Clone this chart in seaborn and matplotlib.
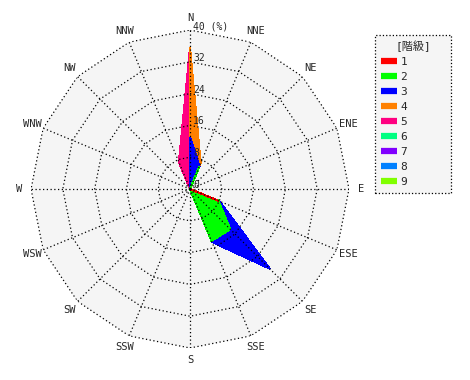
import numpy as np
import matplotlib
matplotlib.use("Agg")
import matplotlib.pyplot as plt
import matplotlib.transforms as mtransforms
from matplotlib.lines import Line2D
import seaborn as sns

# 16 directions, clockwise from north
directions = ["N", "NNE", "NE", "ENE", "E", "ESE", "SE", "SSE",
              "S", "SSW", "SW", "WSW", "W", "WNW", "NW", "NNW"]

# frequency (%) per class, in the order of directions
class1 = [0, 0, 0, 0, 0, 7.7, 0, 0, 0, 0, 0, 0, 0, 0, 0, 0]
class2 = [0, 6.0, 0, 0, 0, 0, 14.3, 14.1, 0, 0, 0, 0, 0, 0, 0, 0]
class3 = [13.0, 0.2, 0, 0, 0, 0.3, 14.0, 0.3, 0, 0, 0, 0, 0, 0, 0, 0]
class4 = [22.5, 0.8, 0, 0, 0, 0, 0, 0, 0, 0, 0, 0, 0, 0, 0, 0]
class5 = [0, 0, 0, 0, 0, 0, 0, 0, 0, 0, 0, 0, 0, 0, 0, 7.3]
class6 = [0] * 16
class7 = [0] * 16
class8 = [0] * 16
class9 = [0] * 16

class_names = ["1", "2", "3", "4", "5", "6", "7", "8", "9"]
class_colors = ["#ff0000", "#00ff00", "#0000ff", "#ff8000", "#ff0080",
                "#00ff80", "#8000ff", "#0080ff", "#80ff00"]

ring_values = [8, 16, 24, 32, 40]
r_max = 40

sns.set_theme(style="white")
plt.rcParams["font.family"] = ["DejaVu Sans Mono", "Noto Sans CJK JP"]

fig = plt.figure(figsize=(4.7, 3.8), dpi=100)
ax = fig.add_axes([0.066, 0.0842, 0.6766, 0.8368], projection="polar")
ax.set_theta_zero_location("N")
ax.set_theta_direction(-1)
ax.set_ylim(0, r_max)
ax.grid(False)
ax.spines["polar"].set_visible(False)
ax.set_xticks([])
ax.set_yticks([])
ax.patch.set_visible(False)

theta = np.deg2rad(np.arange(16) * 22.5)
theta_c = np.append(theta, theta[0])

# grey background inside the outer ring
ax.fill(theta_c, [r_max] * 17, color="#f5f5f5", lw=0, zorder=0)

# stacked layers, outermost first
classes = [class1, class2, class3, class4, class5, class6, class7, class8, class9]
cum = np.cumsum(np.array(classes, dtype=float), axis=0)
for k in range(8, -1, -1):
    if np.sum(classes[k]) == 0:
        continue
    vals = np.append(cum[k], cum[k][0])
    ax.fill(theta_c, vals, facecolor=class_colors[k], edgecolor=class_colors[k],
            lw=0.8, antialiased=False, zorder=2)

# dotted rings and spokes
dot = (0, (1, 2))
for rv in ring_values:
    ax.plot(theta_c, [rv] * 17, color="black", lw=0.9, ls=dot, zorder=3)
for t in theta:
    ax.plot([t, t], [0, r_max], color="black", lw=0.9, ls=dot, zorder=3)

# direction labels
for t, name in zip(theta, directions):
    ax.text(t, 43, name, ha="center", va="center", fontsize=7.5, clip_on=False)

# scale labels along north axis
trans = mtransforms.offset_copy(ax.transData, fig=fig, x=3, y=-1, units="dots")
for rv in [0] + ring_values:
    lab = f"{rv} (%)" if rv == r_max else str(rv)
    ax.text(0, rv, lab, transform=trans, ha="left", va="bottom",
            fontsize=7, zorder=4)

# legend
handles = [Line2D([], [], color=c, lw=4.5, solid_capstyle="butt") for c in class_colors]
leg = fig.legend(handles, class_names, title="[階級]", loc="upper left",
                 bbox_to_anchor=(375 / 470, 1 - 196 / 380, 76 / 470, 161 / 380),
                 mode="expand", borderaxespad=0, fontsize=8, title_fontsize=8,
                 handlelength=1.5, handletextpad=0.3, labelspacing=0.45,
                 borderpad=0.5, fancybox=False, framealpha=1)
frame = leg.get_frame()
frame.set_edgecolor("black")
frame.set_linestyle(":")
frame.set_linewidth(0.9)
frame.set_facecolor("#f5f5f5")

fig.savefig("out.png", dpi=100)
